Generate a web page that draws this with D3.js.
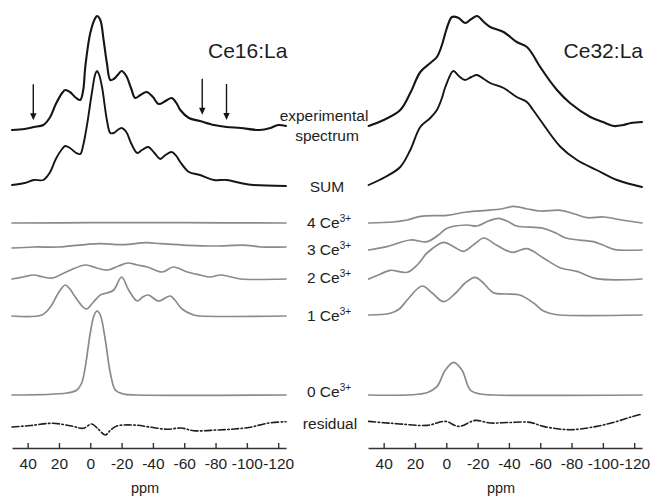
<!DOCTYPE html>
<html><head><meta charset="utf-8">
<script src="https://cdn.jsdelivr.net/npm/d3@7"></script>
<style>
body{margin:0;background:#fff}
svg{display:block}
text{font-family:"Liberation Sans",Arial,Helvetica,sans-serif;fill:#1e1e1e}
</style>
</head><body>
<svg id="chart" width="654" height="497"></svg>
<script>
// ---------- data (ppm, intensity) ----------
const tickValues = [40, 20, 0, -20, -40, -60, -80, -100, -120];
const panelTitles = ["Ce16:La", "Ce32:La"];
const arrowPpm = [36.4, -71.5, -87];

// Ce16:La
const L_exp = [[50,0],[42,1],[36,3],[30,5],[26,12],[22,26],[18,37],[16,40],[13,38],[9,32],[6.4,30],[4.5,40],[3.2,63],[0,97],[-3.2,112],[-4.3,114],[-6.4,110],[-8.5,90],[-10.6,67],[-12.8,50],[-15,51],[-17.5,55],[-20,59],[-23,54],[-26,42],[-28.7,32],[-32,35],[-36,38],[-40,33],[-43.6,26],[-48,29],[-52,32],[-55,27],[-57.5,20],[-63,12],[-70,9],[-79,5],[-87,3],[-96,2],[-108,0],[-115,2],[-120,5],[-125,4]];
const L_sum = [[50,0],[42,2],[36,5],[30,5],[26,12],[22,26],[18,36],[16,39],[13,37],[9,32],[6.4,31],[4.5,40],[2.1,60],[-1,92],[-3.2,111],[-4.3,114],[-5.5,111],[-7.5,98],[-10.6,65],[-12.8,52],[-15,52],[-17.5,55],[-20,57],[-23,53],[-26,42],[-30,32],[-33,35],[-37,38],[-41,32],[-44.7,26],[-48,30],[-52,33],[-55,29],[-57,24],[-63,13],[-70,10],[-79,5],[-87,5],[-96,2],[-104,0],[-125,-1]];
const L_c4 = [[50,0],[0,0.3],[-60,0.3],[-125,0]];
const L_c3 = [[50,-1],[36,0],[20,0],[2,2.7],[-6,3.3],[-21,2.3],[-36,4.3],[-45,3.3],[-62,1.7],[-79,1],[-100,1.7],[-109,0],[-125,0]];
const L_c2 = [[50,0],[43,2],[36,4],[30,2],[24,1],[14,8],[3,14],[-4,11],[-11,9],[-18,13],[-24,16],[-30,14],[-36.5,12],[-46,7],[-53,12],[-62,7],[-70,4],[-76.6,2],[-83,4],[-90,2],[-96,0],[-125,0]];
const L_c1 = [[50,0],[31,1],[25.5,9],[20,24],[16,31],[13,27],[9.6,19],[2.6,7],[-2,14],[-6.4,21],[-10.7,23],[-15,26],[-20,39],[-24.5,26],[-30,15],[-33.5,19],[-37,21],[-43.6,15],[-51,20],[-54,16],[-58.6,7],[-66,1],[-70,0],[-125,0]];
const L_c0 = [[50,0],[15,2],[8.5,5],[5.5,12],[3.2,28],[0,62],[-2.5,80],[-4.3,84],[-6.4,80],[-9.6,55],[-12.8,22],[-16,5],[-21,1],[-30,0],[-125,0]];
const L_res = [[50,0],[38,1.5],[24,3.7],[12,1],[4.5,-1.3],[-1,3],[-5,-2],[-9.6,-8],[-13,-3],[-17,1],[-27.6,2],[-38,0],[-49,-2.3],[-58,-1],[-66,-3.7],[-81,-3],[-92,-2],[-102,-0.3],[-113,3.7],[-125,5.3]];

// Ce32:La
const R_exp = [[49.6,2],[40,8],[29.4,18],[23,35],[16.6,56],[10.2,65],[6,71],[3,82],[0.6,95],[-1.5,105],[-3.6,111],[-7.9,110],[-12,105],[-16,109],[-19.6,112],[-24,106],[-28,101],[-36.6,96],[-45,86],[-51.5,81],[-55,74],[-60,61],[-70.7,38],[-79,25],[-92,11],[-100,6],[-107,2],[-113,3],[-118,5],[-125,6]];
const R_sum = [[49.6,2],[39,10],[29.4,20],[23,37],[16.6,60],[10.2,69],[6,77],[3,88],[0.6,100],[-4.5,116],[-8,111],[-12,107],[-16,110],[-19.6,112],[-24,108],[-28,104],[-36.6,99],[-45,90],[-51.5,85],[-55,78],[-60,67],[-73,40],[-83.5,27],[-96,17],[-109,7],[-125,0]];
const R_c4 = [[49.6,0],[34,1],[25,3],[16.6,6.7],[-0.4,7.7],[-13,11],[-26,12.7],[-35,14],[-43,16.7],[-52,14],[-60,12],[-73,12.7],[-82,9],[-90,5.3],[-100.5,6],[-112,3],[-125,0]];
const R_c3 = [[49.6,0],[38,3.3],[23,10],[12.3,8.3],[5,15],[-0.4,21.7],[-13,25],[-19.6,24],[-27,29],[-33.4,31.7],[-40,28],[-45,24],[-62,21.7],[-70,17],[-77,11.7],[-94,8.3],[-100,5],[-107,0.7],[-125,0]];
const R_c2 = [[49.6,0],[42,5],[35.8,8.7],[25,6.7],[18,15],[12.3,26],[1.7,36.7],[-5,32],[-11,27.7],[-18,35],[-24,41],[-32,34],[-42,26.7],[-51.5,30.3],[-62,21],[-73,11],[-83.5,7.6],[-96,0.3],[-125,0]];
const R_c1 = [[49.6,0],[35.8,1.7],[30,6],[25,15],[15.5,29],[9,22],[1.7,13.3],[-6,22],[-12,32],[-18.5,37.7],[-23,33],[-30,22.3],[-38,21],[-47,20],[-56,11.7],[-61,5],[-66,1.7],[-72,0],[-125,0]];
const R_c0 = [[49.6,0],[12.3,2.3],[6,8.3],[0.6,25],[-4.7,32.7],[-10,25],[-15.3,5],[-21.7,1],[-30,0],[-125,0]];
const R_res = [[49.6,1.6],[40,0.3],[31.5,-0.7],[12.3,-2.4],[0.6,1.6],[-8,-3.4],[-18.5,2.6],[-28,0],[-40,0.5],[-53.6,0.6],[-62,-3.4],[-79,-6.7],[-96,-3.4],[-109,1.6],[-118,6],[-125,9]];

const traceKeys = ["exp","sum","c4","c3","c2","c1","c0","res"];
const leftSeries  = [L_exp, L_sum, L_c4, L_c3, L_c2, L_c1, L_c0, L_res];
const rightSeries = [R_exp, R_sum, R_c4, R_c3, R_c2, R_c1, R_c0, R_res];
const traceLabels = [["experimental","spectrum"],["SUM"],["4 Ce","3+"],["3 Ce","3+"],["2 Ce","3+"],["1 Ce","3+"],["0 Ce","3+"],["residual"]];

// ---------- layout ----------
const panels = [
  {x0: 12, x1: 286, base: [130,185,223,247,279,316,395,427], series: leftSeries, title: panelTitles[0], titleX: 208, anchor: "start", arrows: true},
  {x0: 368, x1: 642, base: [128,187,223,250,279,315,395,423], series: rightSeries, title: panelTitles[1], titleX: 643, anchor: "end", arrows: false}
];
const axisY = 448;
const labelX = 327;
const labelY = [121,192,228,255,283,321,397,429];
const styles = {
  exp: {stroke:"#151515", w:2.1, dash:null},
  sum: {stroke:"#151515", w:1.9, dash:null},
  c:   {stroke:"#8a8a8a", w:1.7, dash:null},
  res: {stroke:"#1e1e1e", w:1.6, dash:"7,2.5,1.5,2.5"}
};

const svg = d3.select("#chart");
const amp = d3.scaleLinear().domain([0, 100]).range([0, -100]);

panels.forEach(p => {
  const x = d3.scaleLinear().domain([50, -125]).range([p.x0, p.x1]);
  const g = svg.append("g");
  p.series.forEach((data, i) => {
    const key = traceKeys[i];
    const st = key === "exp" ? styles.exp : key === "sum" ? styles.sum : key === "res" ? styles.res : styles.c;
    const line = d3.line()
      .x(d => x(d[0]))
      .y(d => p.base[i] + amp(d[1]))
      .curve(d3.curveCatmullRom.alpha(0.5));
    g.append("path")
      .attr("d", line(data.slice().sort((a,b)=>b[0]-a[0])))
      .attr("fill", "none")
      .attr("stroke", st.stroke)
      .attr("stroke-width", st.w)
      .attr("stroke-linejoin", "round")
      .attr("stroke-linecap", "round")
      .attr("stroke-dasharray", st.dash);
  });

  // axis
  const axis = d3.axisBottom(x)
    .tickValues(tickValues)
    .tickFormat(d => String(d))
    .tickSizeInner(-5)
    .tickSizeOuter(0)
    .tickPadding(10);
  const ag = g.append("g").attr("transform", `translate(0,${axisY})`).call(axis);
  ag.select(".domain").attr("stroke", "#333").attr("stroke-width", 1.6);
  ag.selectAll(".tick line").attr("stroke", "#333").attr("stroke-width", 1.4);
  ag.selectAll(".tick text")
    .attr("font-size", 15.5)
    .attr("font-family", '"Liberation Sans",Arial,sans-serif')
    .attr("fill", "#1e1e1e");
  g.append("text")
    .attr("x", (p.x0 + p.x1) / 2 - 4)
    .attr("y", 493)
    .attr("text-anchor", "middle")
    .attr("font-size", 14.5)
    .text("ppm");

  // title
  g.append("text")
    .attr("x", p.titleX)
    .attr("y", 58)
    .attr("text-anchor", p.anchor)
    .attr("font-size", 21)
    .text(p.title);

  // arrows
  if (p.arrows) {
    const expData = p.series[0].slice().sort((a,b)=>a[0]-b[0]);
    const interp = d3.scaleLinear().domain(expData.map(d=>d[0])).range(expData.map(d=>d[1]));
    arrowPpm.forEach(ap => {
      const ax = x(ap);
      const tip = p.base[0] + amp(interp(ap)) - 7;
      const top = tip - 36;
      g.append("line")
        .attr("x1", ax).attr("x2", ax)
        .attr("y1", top).attr("y2", tip - 6)
        .attr("stroke", "#151515").attr("stroke-width", 1.4);
      g.append("path")
        .attr("d", `M${ax-3.2},${tip-7} L${ax+3.2},${tip-7} L${ax},${tip} Z`)
        .attr("fill", "#151515");
    });
  }
});

// centre labels
traceLabels.forEach((lab, i) => {
  if (i === 0) {
    svg.append("text").attr("x", labelX - 3).attr("y", labelY[0]).attr("text-anchor","middle").attr("font-size",15.5).text(lab[0]);
    svg.append("text").attr("x", labelX).attr("y", labelY[0] + 20).attr("text-anchor","middle").attr("font-size",15.5).text(lab[1]);
  } else if (lab.length === 2) {
    const t = svg.append("text").attr("x", labelX + 2).attr("y", labelY[i]).attr("text-anchor","middle").attr("font-size",15.5);
    t.append("tspan").text(lab[0]);
    t.append("tspan").attr("font-size", 10).attr("dy", -6).text(lab[1]);
  } else {
    svg.append("text").attr("x", labelX + (lab[0] === "residual" ? 3 : 0)).attr("y", labelY[i]).attr("text-anchor","middle").attr("font-size",15.5).text(lab[0]);
  }
});
</script>
</body></html>
